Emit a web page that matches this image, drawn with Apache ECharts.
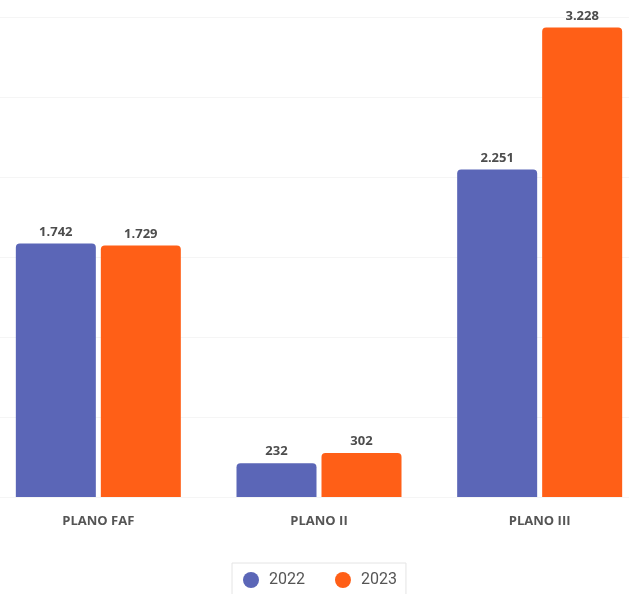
<!DOCTYPE html>
<html><head><meta charset="utf-8">
<script src="https://cdn.jsdelivr.net/npm/echarts@6/dist/echarts.min.js"></script>
<style>html,body{margin:0;padding:0;background:#fff;overflow:hidden;width:629px;height:594px;position:relative}#c{position:absolute;left:-12px;top:0;width:662px;height:594px}</style>
</head><body><div id="c"></div>
<script>
const categories = ['PLANO FAF', 'PLANO II', 'PLANO III'];
const seriesNames = ['2022', '2023'];
const values2022 = [1742, 232, 2251];
const values2023 = [1729, 302, 3228];
const colors = ['#5b66b7', '#ff5f17'];

function fmt(v) { return String(v).replace(/\B(?=(\d{3})+(?!\d))/g, '.'); }

const chart = echarts.init(document.getElementById('c'), null, {renderer: 'canvas'});
const label = {
  show: true, position: 'top', distance: 5,
  fontFamily: 'Open Sans', fontWeight: 'bold', fontSize: 13, color: '#4d4d4d',
  formatter: p => fmt(p.value)
};
chart.setOption({
  animation: false,
  color: colors,
  grid: {left: 0, right: 0, top: 17, bottom: 97, containLabel: false},
  legend: {
    data: seriesNames, left: 244, top: 563,
    icon: 'circle', itemWidth: 16, itemHeight: 16, itemGap: 30,
    borderColor: '#e4e4e4', borderWidth: 1, borderRadius: 0,
    padding: [9, 9, 12, 11],
    textStyle: {fontFamily: 'Roboto', fontSize: 16, color: '#555', padding: [0, 0, 0, 5]}
  },
  xAxis: {
    type: 'category', data: categories,
    axisLine: {show: false}, axisTick: {show: false},
    axisLabel: {margin: 18, fontFamily: 'Open Sans', fontWeight: 'bold', fontSize: 13, color: '#555'}
  },
  yAxis: {
    type: 'value', min: 0, max: 3300, interval: 550,
    axisLabel: {show: false}, axisLine: {show: false}, axisTick: {show: false},
    splitLine: {lineStyle: {color: '#f5f5f5', width: 1}}
  },
  series: [
    {name: seriesNames[0], type: 'bar', data: values2022, barWidth: 80, barGap: '6.25%',
     itemStyle: {borderRadius: [4, 4, 0, 0]}, label: label},
    {name: seriesNames[1], type: 'bar', data: values2023, barWidth: 80, barGap: '6.25%',
     itemStyle: {borderRadius: [4, 4, 0, 0]}, label: label}
  ]
});
</script></body></html>
